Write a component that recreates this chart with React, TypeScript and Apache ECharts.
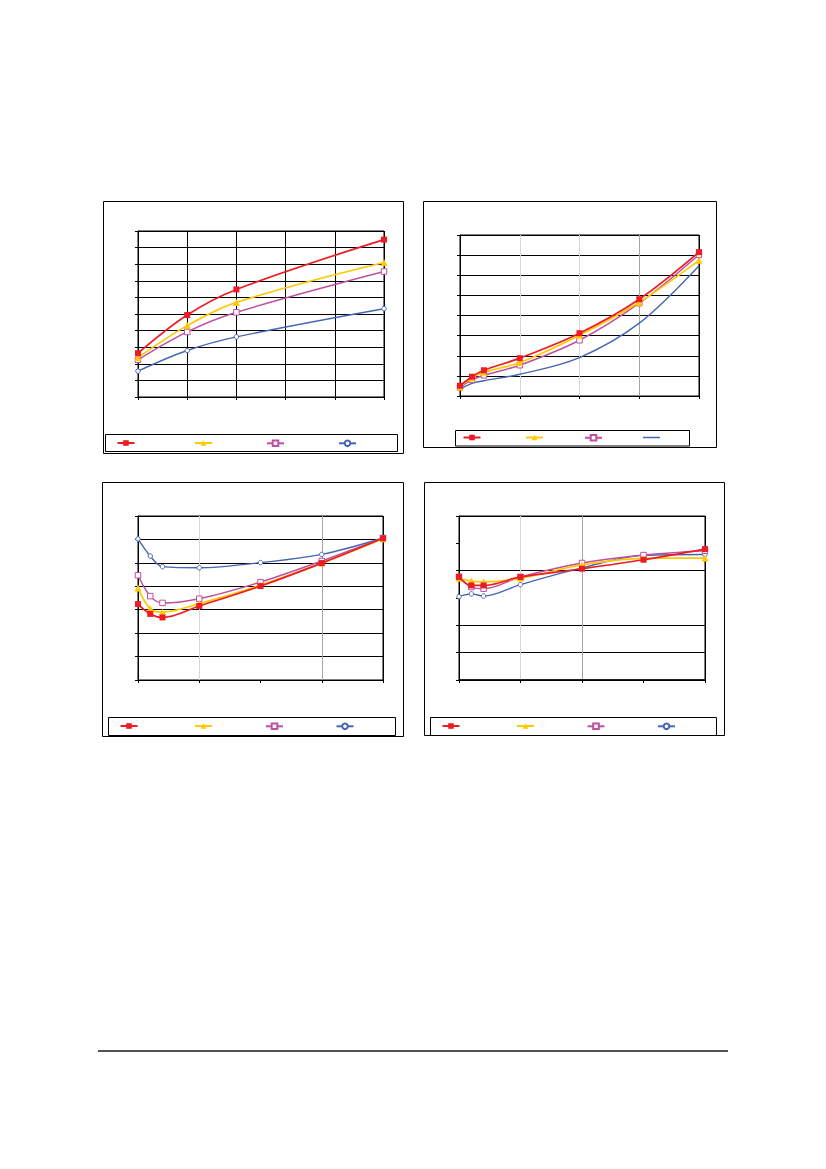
import React, { useEffect, useRef } from 'react';
import * as echarts from 'echarts';

const RED = '#ED1C24';
const YELLOW = '#FFC800';
const MAGENTA = '#BF4FA0';
const BLUE = '#4666B2';

// ---- Chart A (top-left) ----
const xA = [0, 1, 2, 5];
const aRed = [2.64, 4.94, 6.48, 9.48];
const aYellow = [2.38, 4.3, 5.7, 8.1];
const aMagenta = [2.24, 3.92, 5.1, 7.56];
const aBlue = [1.56, 2.8, 3.62, 5.32];

// ---- Chart B (top-right) ----
const xB = [0, 0.2, 0.4, 1, 2, 3, 4];
const bRed = [0.51, 0.96, 1.28, 1.88, 3.12, 4.81, 7.15];
const bYellow = [0.45, 0.9, 1.18, 1.66, 3.02, 4.66, 6.74];
const bMagenta = [0.43, 0.8, 1.03, 1.53, 2.77, 4.61, 7.02];
const bBlue = [0.35, 0.63, 0.76, 1.08, 1.91, 3.62, 6.47];

// ---- Chart C (bottom-left) ----
const xC = [0, 0.2, 0.4, 1, 2, 3, 4];
const cRed = [3.24, 2.82, 2.67, 3.16, 4.01, 4.99, 6.05];
const cYellow = [3.93, 3.04, 2.9, 3.26, 4.05, 4.99, 6.03];
const cMagenta = [4.47, 3.58, 3.29, 3.47, 4.18, 5.08, 6.06];
const cBlue = [6.02, 5.29, 4.84, 4.79, 5.01, 5.36, 6.06];

// ---- Chart D (bottom-right) ----
const xD = [0, 0.2, 0.4, 1, 2, 3, 4];
const dRed = [3.77, 3.46, 3.46, 3.77, 4.07, 4.4, 4.79];
const dYellow = [3.72, 3.62, 3.59, 3.72, 4.21, 4.45, 4.46];
const dMagenta = [3.78, 3.4, 3.34, 3.77, 4.28, 4.57, 4.73];
const dBlue = [3.05, 3.15, 3.07, 3.49, 4.1, 4.56, 4.59];

// axis ranges
const xMaxes = [5, 4, 4, 4];
const yMaxes = [10, 8, 7, 6];

const K = '#000';
const LT = '#D6D6D6';
const MD = '#A4A4A4';
const NO = 'rgba(0,0,0,0)';

const xSplitColors = [
  [K, K, K, K, K, K],
  [K, LT, LT, MD, K],
  [K, LT, NO, MD, K],
  [K, LT, MD, NO, K],
];
const ySplitColors = [
  [K, K, K, K, K, K, K, K, K, K, K],
  [K, K, K, K, K, K, K, K, K],
  [K, K, K, K, K, K, K, K],
  [K, K, K, NO, K, NO, K],
];

const grids = [
  { left: 138, top: 231, width: 246, height: 166 },
  { left: 460, top: 235, width: 239, height: 161 },
  { left: 138, top: 516, width: 245, height: 164 },
  { left: 459, top: 516, width: 246, height: 164 },
];

const outerBoxes = [
  { x: 103.5, y: 201.5, w: 300, h: 252 },
  { x: 423.5, y: 201.5, w: 293, h: 246 },
  { x: 102.5, y: 482.5, w: 301, h: 254 },
  { x: 424.5, y: 482.5, w: 300, h: 253 },
];

const legendBoxes = [
  { x: 105.5, y: 434.5, w: 292, h: 17 },
  { x: 455.5, y: 430.5, w: 234, h: 15.5 },
  { x: 108.5, y: 717.5, w: 287, h: 18 },
  { x: 430.5, y: 717.5, w: 286, h: 18 },
];

const legendCenters = [
  { xs: [125, 202.5, 274.5, 346.5], y: 443 },
  { xs: [471, 533.5, 592.5, 651.5], y: 437.5 },
  { xs: [128, 202.5, 273.5, 344], y: 726 },
  { xs: [450, 524.5, 595, 665.5], y: 726 },
];

const datasets = [
  { x: xA, ys: [aRed, aYellow, aMagenta, aBlue] },
  { x: xB, ys: [bRed, bYellow, bMagenta, bBlue] },
  { x: xC, ys: [cRed, cYellow, cMagenta, cBlue] },
  { x: xD, ys: [dRed, dYellow, dMagenta, dBlue] },
];

const seriesStyles = [
  { color: RED, symbol: 'rect', size: 6, fill: RED, border: 0, width: 1.7 },
  { color: YELLOW, symbol: 'triangle', size: 7, fill: YELLOW, border: 0, width: 1.7 },
  { color: MAGENTA, symbol: 'rect', size: 5.5, fill: '#fff', border: 1, width: 1.5 },
  { color: BLUE, symbol: 'circle', size: 4.5, fill: '#fff', border: 1, width: 1.4 },
];

function buildOption() {
  const grid: any[] = [];
  const xAxis: any[] = [];
  const yAxis: any[] = [];
  const series: any[] = [];
  const legend: any[] = [];
  const graphic: any[] = [];

  for (let c = 0; c < 4; c++) {
    const g = grids[c];
    grid.push({ ...g, show: true, borderColor: '#000', borderWidth: 1, backgroundColor: 'transparent' });
    const axisCommon = {
      gridIndex: c,
      type: 'value',
      min: 0,
      interval: 1,
      axisTick: { show: true, inside: false, length: 3, lineStyle: { color: '#000', width: 1 } },
      axisLabel: { show: false },
    };
    xAxis.push({
      ...axisCommon,
      max: xMaxes[c],
      axisLine: { show: true, onZero: false, lineStyle: { color: '#000', width: c === 3 ? 1.5 : 1 } },
      splitLine: { show: true, showMinLine: true, showMaxLine: true, lineStyle: { color: xSplitColors[c], width: 1 } },
    });
    yAxis.push({
      ...axisCommon,
      max: yMaxes[c],
      axisLine: { show: true, onZero: false, lineStyle: { color: '#000', width: 1 } },
      splitLine: { show: true, showMinLine: true, showMaxLine: true, lineStyle: { color: ySplitColors[c], width: 1 } },
    });

    const ds = datasets[c];
    for (let s = 0; s < 4; s++) {
      const st = seriesStyles[s];
      const noSymbol = c === 1 && s === 3;
      const name = `c${c + 1}s${s + 1}`;
      series.push({
        name,
        type: 'line',
        xAxisIndex: c,
        yAxisIndex: c,
        data: ds.x.map((xv, i) => [xv, ds.ys[s][i]]),
        smooth: 0.35,
        symbol: noSymbol ? 'none' : st.symbol,
        symbolSize: st.size,
        showSymbol: !noSymbol,
        clip: false,
        lineStyle: { color: st.color, width: st.width },
        itemStyle: noSymbol
          ? { color: st.color }
          : { color: st.fill, borderColor: st.color, borderWidth: st.border },
        emphasis: { disabled: true },
        z: 10 - s,
      });
      const lc = legendCenters[c];
      const iconH = noSymbol ? 1.5 : 7;
      legend.push({
        data: noSymbol ? [{ name, icon: 'rect' }] : [name],
        left: lc.xs[s] - 8.5,
        top: lc.y - iconH / 2,
        itemWidth: 17,
        itemHeight: iconH,
        padding: 0,
        itemGap: 0,
        selectedMode: false,
        formatter: () => '',
        textStyle: { fontSize: 1 },
      });
    }

    const ob = outerBoxes[c];
    graphic.push({
      type: 'rect',
      shape: { x: ob.x, y: ob.y, width: ob.w, height: ob.h },
      style: { fill: 'none', stroke: '#000', lineWidth: 1 },
      silent: true,
      z: -10,
    });
    const lb = legendBoxes[c];
    graphic.push({
      type: 'rect',
      shape: { x: lb.x, y: lb.y, width: lb.w, height: lb.h },
      style: { fill: 'none', stroke: '#000', lineWidth: 1 },
      silent: true,
      z: -10,
    });
  }

  graphic.push({
    type: 'line',
    shape: { x1: 98, y1: 1051, x2: 728, y2: 1051 },
    style: { stroke: '#1a1a1a', lineWidth: 1.6 },
    silent: true,
  });

  return {
    animation: false,
    backgroundColor: '#fff',
    grid,
    xAxis,
    yAxis,
    series,
    legend,
    graphic,
    tooltip: { show: false },
  };
}

export default function App() {
  const ref = useRef<HTMLDivElement>(null);
  useEffect(() => {
    if (!ref.current) return;
    const chart = echarts.init(ref.current, undefined, { renderer: 'svg' });
    chart.setOption(buildOption() as any);
    return () => {
      chart.dispose();
    };
  }, []);
  return (
    <div
      ref={ref}
      style={{ position: 'absolute', left: 0, top: 0, width: 826, height: 1169, background: '#fff' }}
    />
  );
}
